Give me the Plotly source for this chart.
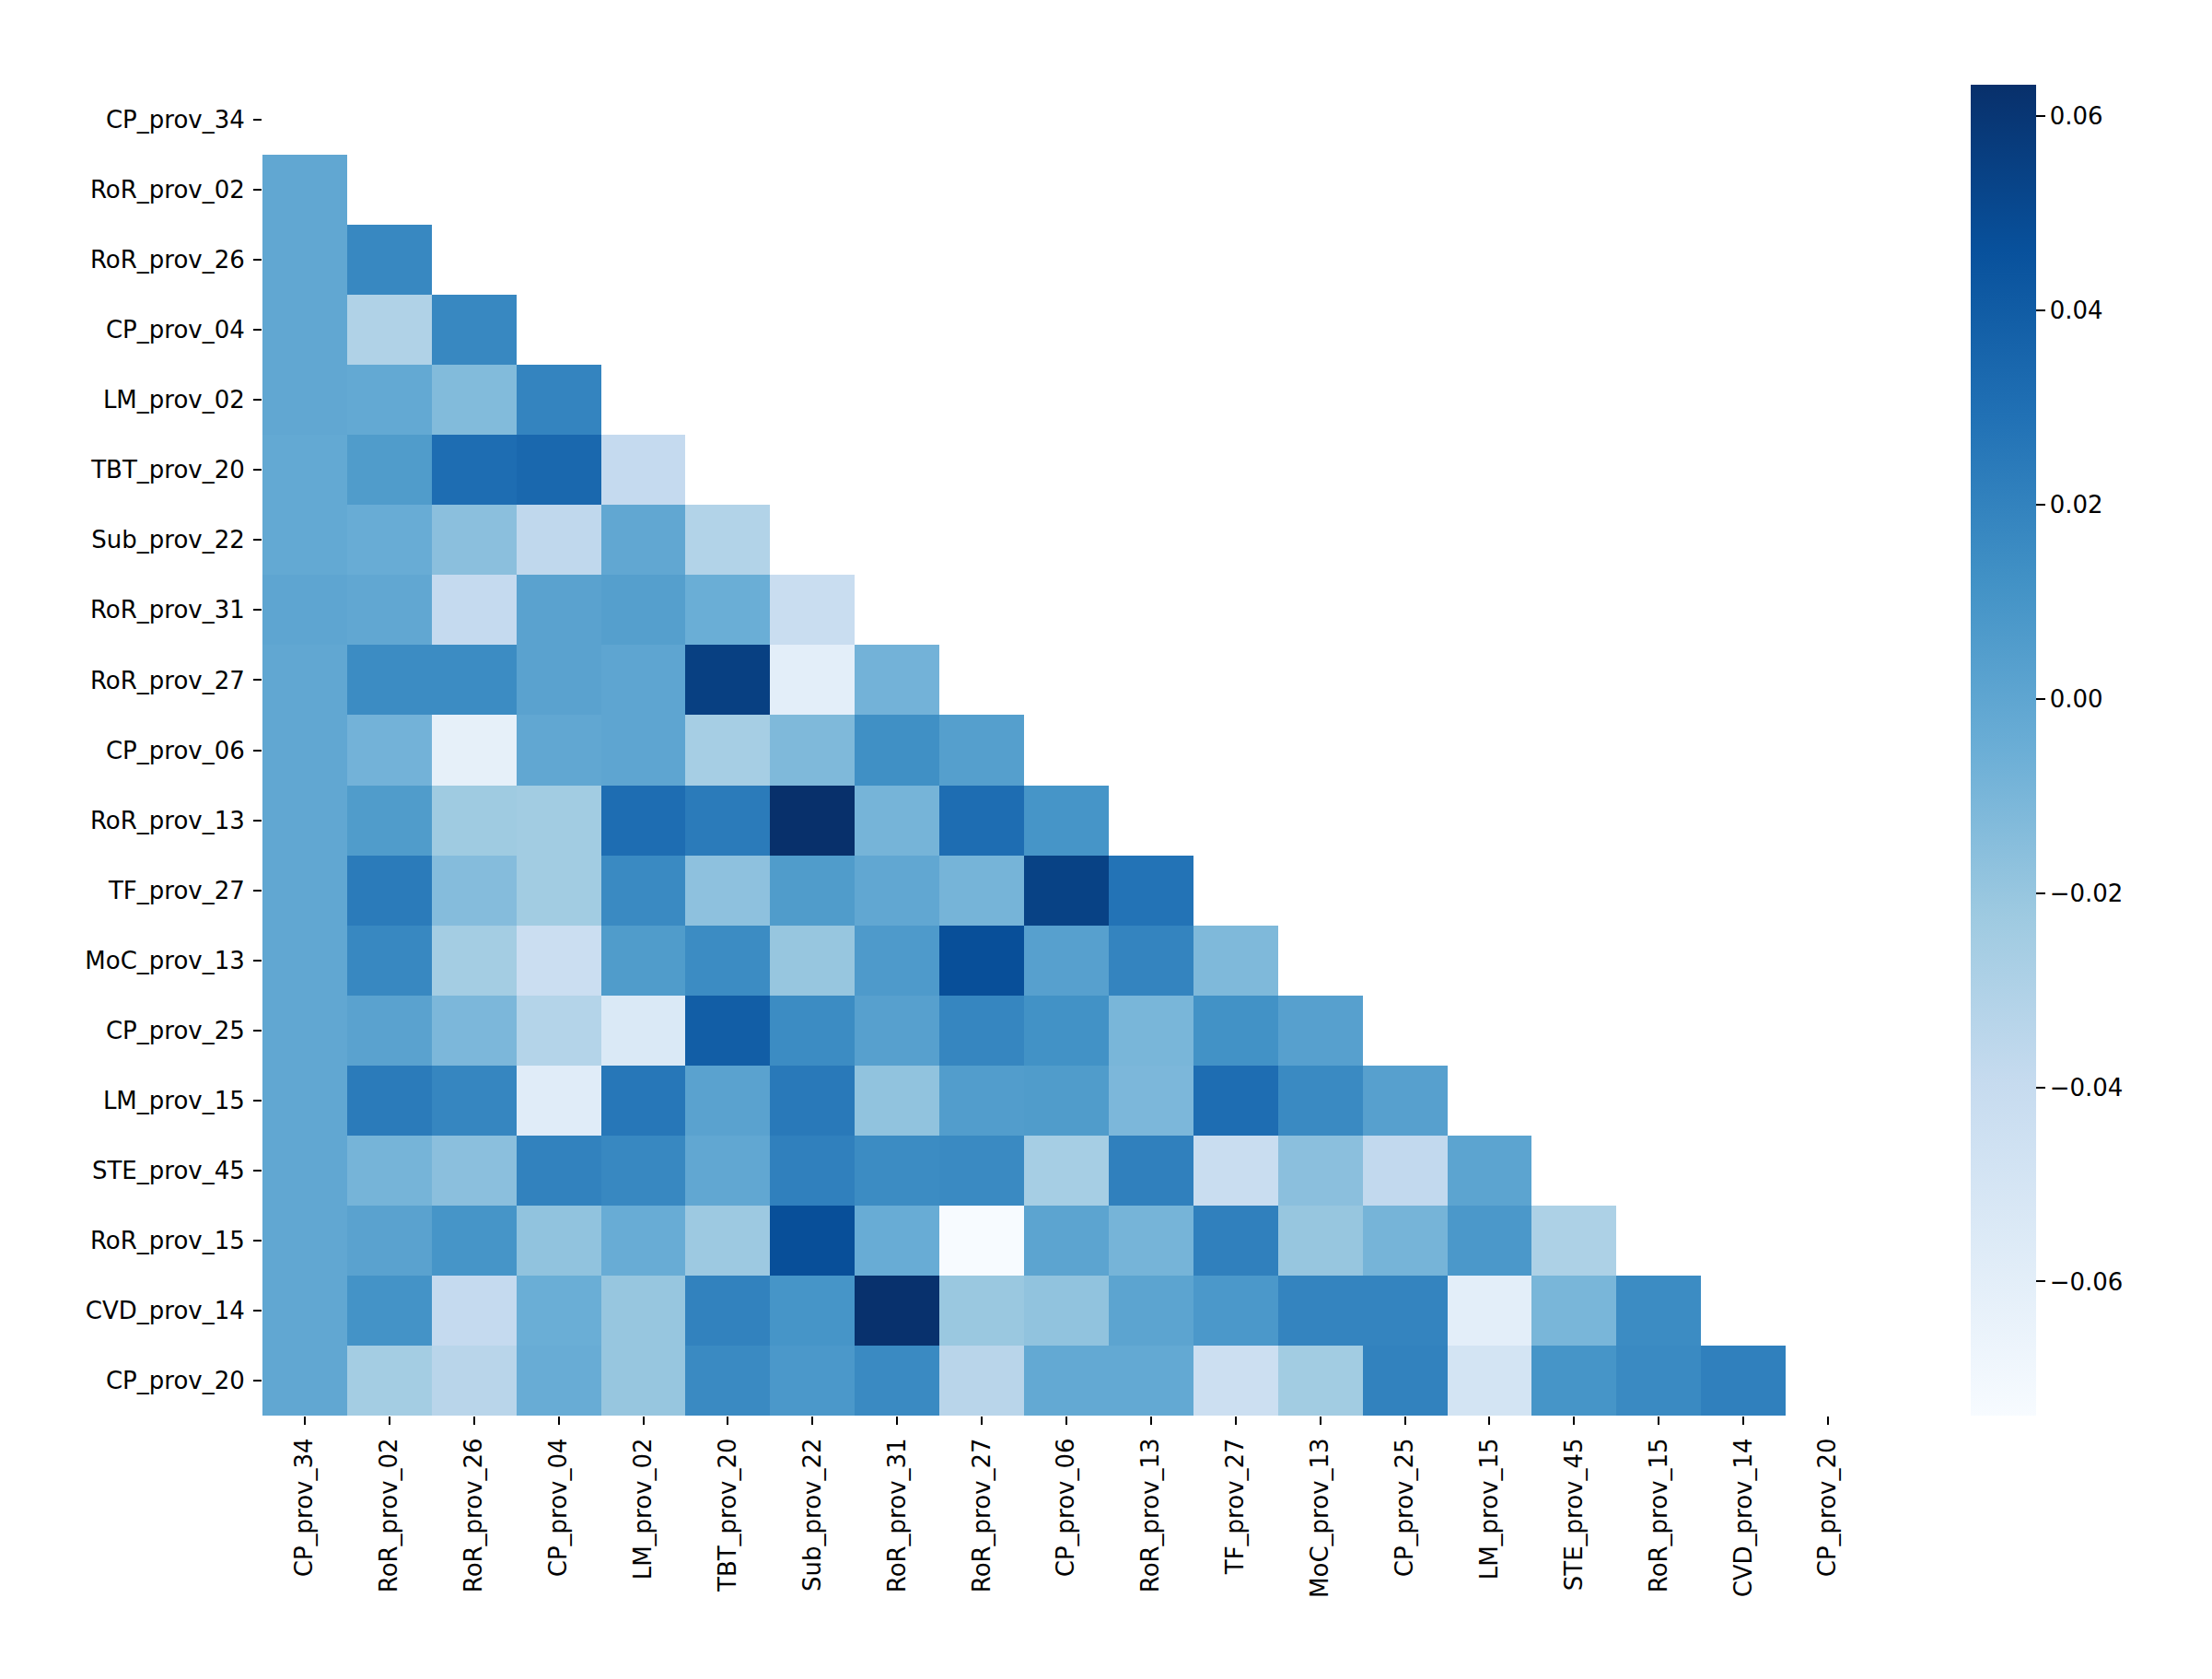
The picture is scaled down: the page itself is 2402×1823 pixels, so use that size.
import numpy as np
import plotly.graph_objects as go

labels = ["CP_prov_34", "RoR_prov_02", "RoR_prov_26", "CP_prov_04", "LM_prov_02",
          "TBT_prov_20", "Sub_prov_22", "RoR_prov_31", "RoR_prov_27", "CP_prov_06",
          "RoR_prov_13", "TF_prov_27", "MoC_prov_13", "CP_prov_25", "LM_prov_15",
          "STE_prov_45", "RoR_prov_15", "CVD_prov_14", "CP_prov_20"]

# lower-triangle values (row i holds columns 0..i-1)
row_CP_prov_34 = []
row_RoR_prov_02 = [-0.001]
row_RoR_prov_26 = [-0.001, 0.017]
row_CP_prov_04 = [-0.001, -0.030, 0.017]
row_LM_prov_02 = [-0.001, -0.002, -0.013, 0.019]
row_TBT_prov_20 = [-0.002, 0.006, 0.031, 0.034, -0.039]
row_Sub_prov_22 = [-0.002, -0.004, -0.016, -0.037, -0.001, -0.031]
row_RoR_prov_31 = [0.000, -0.001, -0.039, 0.002, 0.004, -0.005, -0.042]
row_RoR_prov_27 = [-0.001, 0.015, 0.015, 0.002, 0.000, 0.055, -0.060, -0.008]
row_CP_prov_06 = [-0.001, -0.008, -0.062, -0.001, 0.000, -0.026, -0.012, 0.013, 0.004]
row_RoR_prov_13 = [-0.001, 0.006, -0.023, -0.024, 0.031, 0.024, 0.0632, -0.009, 0.031, 0.010]
row_TF_prov_27 = [-0.001, 0.024, -0.014, -0.024, 0.016, -0.017, 0.006, -0.001, -0.009, 0.054, 0.028]
row_MoC_prov_13 = [-0.001, 0.017, -0.025, -0.043, 0.006, 0.015, -0.020, 0.007, 0.047, 0.003, 0.019, -0.012]
row_CP_prov_25 = [-0.001, 0.002, -0.011, -0.032, -0.054, 0.039, 0.015, 0.003, 0.018, 0.012, -0.010, 0.012, 0.003]
row_LM_prov_15 = [-0.001, 0.024, 0.018, -0.058, 0.026, 0.002, 0.025, -0.018, 0.005, 0.006, -0.011, 0.031, 0.016, 0.003]
row_STE_prov_45 = [-0.001, -0.009, -0.016, 0.020, 0.017, -0.001, 0.021, 0.015, 0.016, -0.026, 0.021, -0.042, -0.016, -0.038, 0.001]
row_RoR_prov_15 = [-0.001, 0.002, 0.010, -0.018, -0.004, -0.022, 0.047, -0.004, -0.0738, 0.001, -0.009, 0.021, -0.020, -0.009, 0.008, -0.029]
row_CVD_prov_14 = [-0.001, 0.011, -0.039, -0.005, -0.020, 0.020, 0.010, 0.0625, -0.021, -0.018, 0.001, 0.008, 0.019, 0.019, -0.060, -0.010, 0.015]
row_CP_prov_20 = [-0.001, -0.025, -0.034, -0.004, -0.020, 0.016, 0.008, 0.016, -0.034, -0.002, -0.002, -0.044, -0.024, 0.020, -0.049, 0.010, 0.016, 0.021]

rows = [row_CP_prov_34, row_RoR_prov_02, row_RoR_prov_26, row_CP_prov_04, row_LM_prov_02,
        row_TBT_prov_20, row_Sub_prov_22, row_RoR_prov_31, row_RoR_prov_27, row_CP_prov_06,
        row_RoR_prov_13, row_TF_prov_27, row_MoC_prov_13, row_CP_prov_25, row_LM_prov_15,
        row_STE_prov_45, row_RoR_prov_15, row_CVD_prov_14, row_CP_prov_20]

cbar_ticks = [-0.06, -0.04, -0.02, 0.0, 0.02, 0.04, 0.06]
cbar_ticktext = ["\u22120.06", "\u22120.04", "\u22120.02", "0.00", "0.02", "0.04", "0.06"]

n = len(labels)
z = np.full((n, n), np.nan)
for i, r in enumerate(rows):
    for j, v in enumerate(r):
        z[i, j] = v

blues = ["#f7fbff", "#deebf7", "#c6dbef", "#9ecae1", "#6baed6",
         "#4292c6", "#2171b5", "#08519c", "#08306b"]
colorscale = [[k / (len(blues) - 1), c] for k, c in enumerate(blues)]

# page body has an 8px margin, so the figure is drawn offset by 8px
OFF = 8
W, H = 2402 - 2 * OFF, 1823 - 2 * OFF
L, T = 285 - OFF, 92 - OFF
R = W - (2031 - OFF)
B = H - (1537 - OFF)
plot_w = W - L - R

FONT = dict(family="DejaVu Sans", size=26, color="black")

fig = go.Figure(go.Heatmap(
    z=z, x=labels, y=labels,
    colorscale=colorscale, zmin=-0.0738, zmax=0.0632,
    hoverongaps=False,
    colorbar=dict(
        x=(2140 - OFF - L) / plot_w, xanchor="left", xref="paper",
        y=0.5, yanchor="middle", len=1.0, lenmode="fraction",
        xpad=0, ypad=0,
        thickness=71, thicknessmode="pixels",
        outlinewidth=0,
        tickvals=cbar_ticks, ticktext=cbar_ticktext,
        ticks="outside", ticklen=10, tickwidth=2, tickcolor="black",
        tickfont=FONT,
    ),
))

fig.update_layout(
    width=W, height=H, autosize=False,
    margin=dict(l=L, r=R, t=T, b=B, pad=0),
    paper_bgcolor="white", plot_bgcolor="white",
    font=FONT,
    showlegend=False,
)
fig.update_xaxes(
    type="category", range=[-0.5, n - 0.5], tickangle=-90,
    ticks="outside", ticklen=9, tickwidth=2, tickcolor="black",
    showgrid=False, zeroline=False, showline=False,
    tickfont=FONT, ticklabelstandoff=4,
)
fig.update_yaxes(
    type="category", range=[n - 0.5, -0.5],
    ticks="outside", ticklen=9, tickwidth=2, tickcolor="black",
    showgrid=False, zeroline=False, showline=False,
    tickfont=FONT, ticklabelstandoff=4,
)

fig.write_html("out.html")
